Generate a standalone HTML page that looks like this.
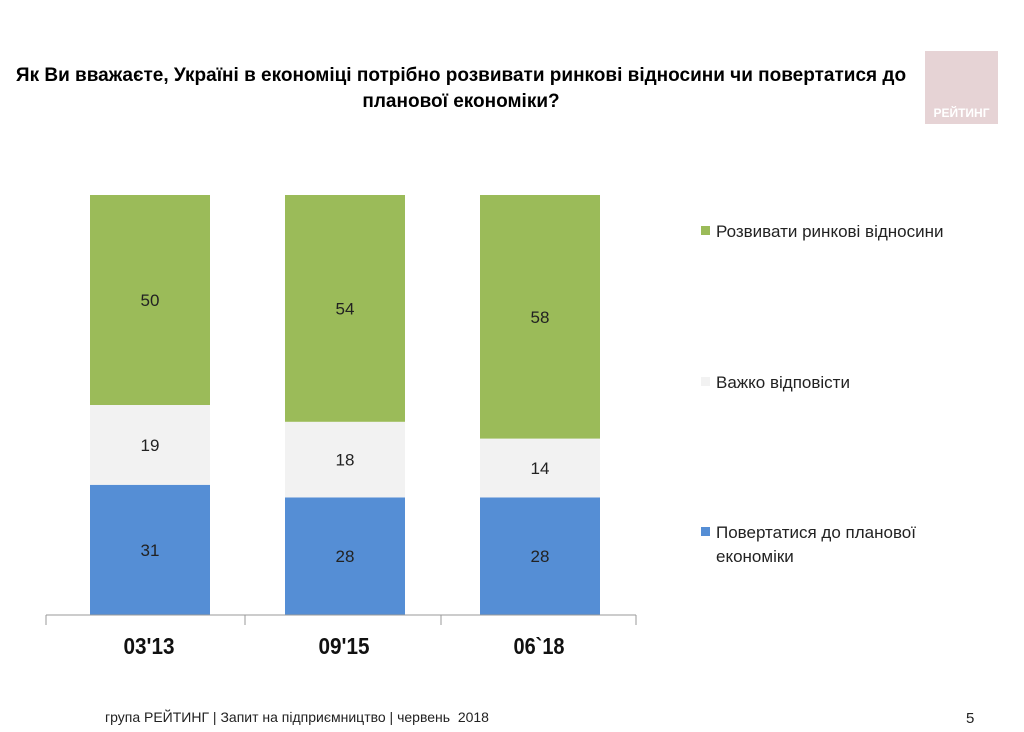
<!DOCTYPE html>
<html><head><meta charset="utf-8">
<style>
body{margin:0;width:1024px;height:732px;background:#fff;position:relative;overflow:hidden;font-family:"Liberation Sans",sans-serif;}
.t{position:absolute;}
</style></head>
<body>
<div class="t" style="left:0;top:63px;width:922px;text-align:center;font-weight:bold;font-size:19px;line-height:26px;color:#000;">Як Ви вважаєте, Україні в економіці потрібно розвивати ринкові відносини чи повертатися до<br>планової економіки?</div>
<div class="t" style="left:925px;top:51px;width:73px;height:73px;background:#e6d3d5;">
<div style="position:absolute;bottom:4px;width:100%;text-align:center;color:#fff;font-weight:bold;font-size:12px;">РЕЙТИНГ</div></div>
<svg id="chart" class="t" style="left:0;top:0" width="1024" height="732"></svg>
<div class="t" style="left:105px;top:709px;font-size:14px;color:#222;">група РЕЙТИНГ | Запит на підприємництво | червень&nbsp; 2018</div>
<div class="t" style="left:966px;top:710px;font-size:15px;color:#222;">5</div>
<script>
const categories=["03'13","09'15","06`18"];
const planned=[31,28,28];
const hard=[19,18,14];
const market=[50,54,58];
const colors=["#558ed5","#f2f2f2","#9bbb59"];
const svg=document.getElementById('chart');
const NS='http://www.w3.org/2000/svg';
const y0=615,scale=4.2,axL=46,axR=636,bw=120;
function yv(v){return y0-v*scale;}
function xc(i){return 150+195*i;}
function mk(t,a){const e=document.createElementNS(NS,t);for(const k in a)e.setAttribute(k,a[k]);svg.appendChild(e);return e;}
const series=[planned,hard,market];
categories.forEach((c,i)=>{
 let cum=0;
 series.forEach((s,j)=>{
  const v=s[i];
  const r=mk('rect',{x:xc(i)-bw/2,y:yv(cum+v),width:bw,height:v*scale,fill:colors[j]});
  
  
  const t=mk('text',{x:xc(i),y:yv(cum+v/2)+6,'text-anchor':'middle','font-size':'17','fill':'#222'});
  t.textContent=v;
  
  
  cum+=v;
 });
 const l=mk('text',{x:xc(i)-1,y:654,'text-anchor':'middle','font-size':'23','font-weight':'bold','fill':'#111',textLength:'51',lengthAdjust:'spacingAndGlyphs'});
 l.textContent=c;
 
 
});
const ax=mk('line',{x1:axL,x2:axR,y1:y0,y2:y0,stroke:'#999','stroke-width':1});


const tickX=[46,245,441,636];
tickX.forEach(x=>{
 const tk=mk('line',{x1:x,x2:x,y1:y0,y2:y0+10,stroke:'#999'});
 
 
});
const legY=[[538,562],[388],[237]];
const legText=[["Повертатися до планової","економіки"],["Важко відповісти"],["Розвивати ринкові відносини"]];
legText.forEach((lines,j)=>{
 const sq=mk('rect',{x:701,y:legY[j][0]-11,width:9,height:9,fill:colors[j]});
 
 
 lines.forEach((ln,k)=>{
  const t=mk('text',{x:716,y:legY[j][k],'font-size':'17','fill':'#222'});
  t.textContent=ln;
  
  
 });
});
</script>
</body></html>
